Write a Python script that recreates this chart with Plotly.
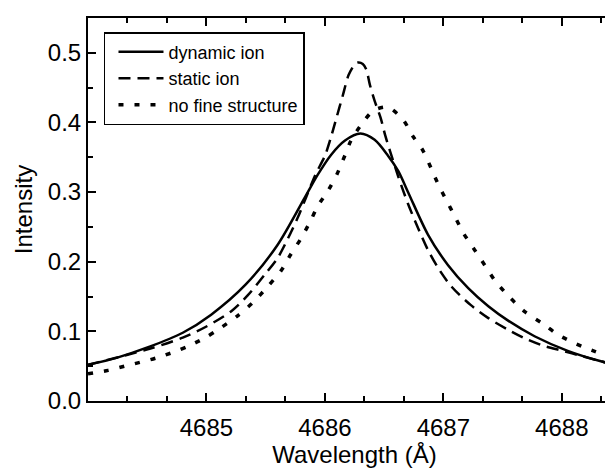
import plotly.graph_objects as go

# Wavelength (Å) and intensity
dyn_x = [4684.0, 4684.24, 4684.52, 4684.80, 4685.04, 4685.33, 4685.60, 4685.83, 4685.94,
         4686.05, 4686.17, 4686.30, 4686.42, 4686.53, 4686.62, 4686.71, 4686.87, 4687.04,
         4687.21, 4687.38, 4687.55, 4687.77, 4688.05, 4688.33, 4688.5]
dyn_y = [0.052, 0.062, 0.078, 0.098, 0.124, 0.167, 0.224, 0.292, 0.325,
         0.353, 0.374, 0.384, 0.375, 0.353, 0.330, 0.297, 0.239, 0.195,
         0.162, 0.136, 0.115, 0.093, 0.072, 0.057, 0.050]

sta_x = [4684.0, 4684.52, 4684.80, 4685.0, 4685.21, 4685.35, 4685.49, 4685.60, 4685.69,
         4685.77, 4685.84, 4685.92, 4686.0, 4686.05, 4686.10, 4686.15, 4686.20, 4686.25,
         4686.28, 4686.32, 4686.35, 4686.38, 4686.42, 4686.47, 4686.51, 4686.55, 4686.62,
         4686.70, 4686.79, 4686.87, 4686.96, 4687.07, 4687.23, 4687.38, 4687.55, 4687.70,
         4687.85, 4688.01, 4688.16, 4688.33, 4688.5]
sta_y = [0.052, 0.075, 0.091, 0.107, 0.129, 0.152, 0.181, 0.205, 0.234,
         0.263, 0.292, 0.325, 0.352, 0.378, 0.408, 0.438, 0.468, 0.483,
         0.486, 0.484, 0.476, 0.454, 0.431, 0.407, 0.381, 0.359, 0.322,
         0.284, 0.247, 0.217, 0.190, 0.164, 0.138, 0.119, 0.102, 0.089,
         0.079, 0.072, 0.065, 0.057, 0.050]

nfs_x = [4684.0, 4684.17, 4684.31, 4684.45, 4684.58, 4684.72, 4684.85, 4684.99, 4685.12,
         4685.26, 4685.39, 4685.52, 4685.63, 4685.71, 4685.80, 4685.88, 4685.94, 4686.03,
         4686.10, 4686.17, 4686.22, 4686.30, 4686.41, 4686.53, 4686.66, 4686.74, 4686.83,
         4686.90, 4686.96, 4687.03, 4687.10, 4687.17, 4687.26, 4687.35, 4687.44, 4687.56,
         4687.69, 4687.84, 4687.97, 4688.11, 4688.25, 4688.38, 4688.5]
nfs_y = [0.039, 0.044, 0.050, 0.056, 0.062, 0.070, 0.079, 0.091, 0.105,
         0.122, 0.141, 0.165, 0.187, 0.210, 0.234, 0.259, 0.280, 0.303,
         0.325, 0.353, 0.374, 0.395, 0.417, 0.422, 0.404, 0.381, 0.359,
         0.333, 0.310, 0.287, 0.264, 0.241, 0.218, 0.195, 0.172, 0.149,
         0.128, 0.111, 0.095, 0.083, 0.073, 0.065, 0.060]

x_ticks = [4685, 4686, 4687, 4688]
x_minor = [4684 + k / 3 for k in range(1, 14) if k % 3 != 0]

FONT = "Liberation Sans, Arial, Helvetica, sans-serif"

fig = go.Figure()
fig.add_trace(go.Scatter(x=dyn_x, y=dyn_y, mode="lines", name="dynamic ion",
                         line=dict(color="black", width=2.5, shape="spline", smoothing=0.8)))
fig.add_trace(go.Scatter(x=sta_x, y=sta_y, mode="lines", name="static ion",
                         line=dict(color="black", width=2.5, dash="12px,7px", shape="spline", smoothing=0.8)))
fig.add_trace(go.Scatter(x=nfs_x, y=nfs_y, mode="lines", name="no fine structure",
                         line=dict(color="black", width=3.5, dash="5px,11px", shape="spline", smoothing=0.8)))
# invisible trace carrying the right-hand tick axis
fig.add_trace(go.Scatter(x=[4684.0], y=[0.0], yaxis="y2", mode="markers",
                         marker=dict(opacity=0), showlegend=False, hoverinfo="skip"))

fig.update_layout(
    width=613, height=468,
    margin=dict(l=80, r=0, t=10, b=75),
    paper_bgcolor="white", plot_bgcolor="white",
    font=dict(family=FONT, color="black", size=24),
    showlegend=True,
    legend=dict(x=0.03, y=0.963, xanchor="left", yanchor="top",
                bgcolor="white", bordercolor="black", borderwidth=1.5,
                font=dict(size=18, family=FONT), itemwidth=45, indentation=8,
                tracegroupgap=0),
    xaxis=dict(range=[4684.0, 4688.5], tickvals=x_ticks,
               ticks="inside", ticklen=8, tickwidth=2, tickcolor="black",
               showline=True, linewidth=2, linecolor="black", mirror="ticks",
               showgrid=False, zeroline=False, ticklabelstandoff=4,
               minor=dict(tickvals=x_minor, ticks="inside", ticklen=5, tickwidth=2,
                          tickcolor="black"),
               title=dict(text="Wavelength (Å)", font=dict(size=24), standoff=6),
               tickfont=dict(size=24)),
    yaxis=dict(range=[0, 0.55], dtick=0.1, tick0=0, tickformat=".1f",
               ticks="inside", ticklen=8, tickwidth=2, tickcolor="black",
               showline=True, linewidth=2, linecolor="black", mirror=False,
               showgrid=False, zeroline=False,
               minor=dict(dtick=0.05, ticks="inside", ticklen=5, tickwidth=2, tickcolor="black"),
               title=dict(text="Intensity", font=dict(size=24), standoff=8),
               tickfont=dict(size=24)),
    yaxis2=dict(range=[0, 0.55], dtick=0.1, tick0=0, overlaying="y", side="right",
                anchor="x", showticklabels=False, showline=False, showgrid=False,
                zeroline=False, ticks="inside", ticklen=8, tickwidth=2, tickcolor="black",
                minor=dict(dtick=0.05, ticks="inside", ticklen=5, tickwidth=2, tickcolor="black")),
)

fig.write_html("out.html")
